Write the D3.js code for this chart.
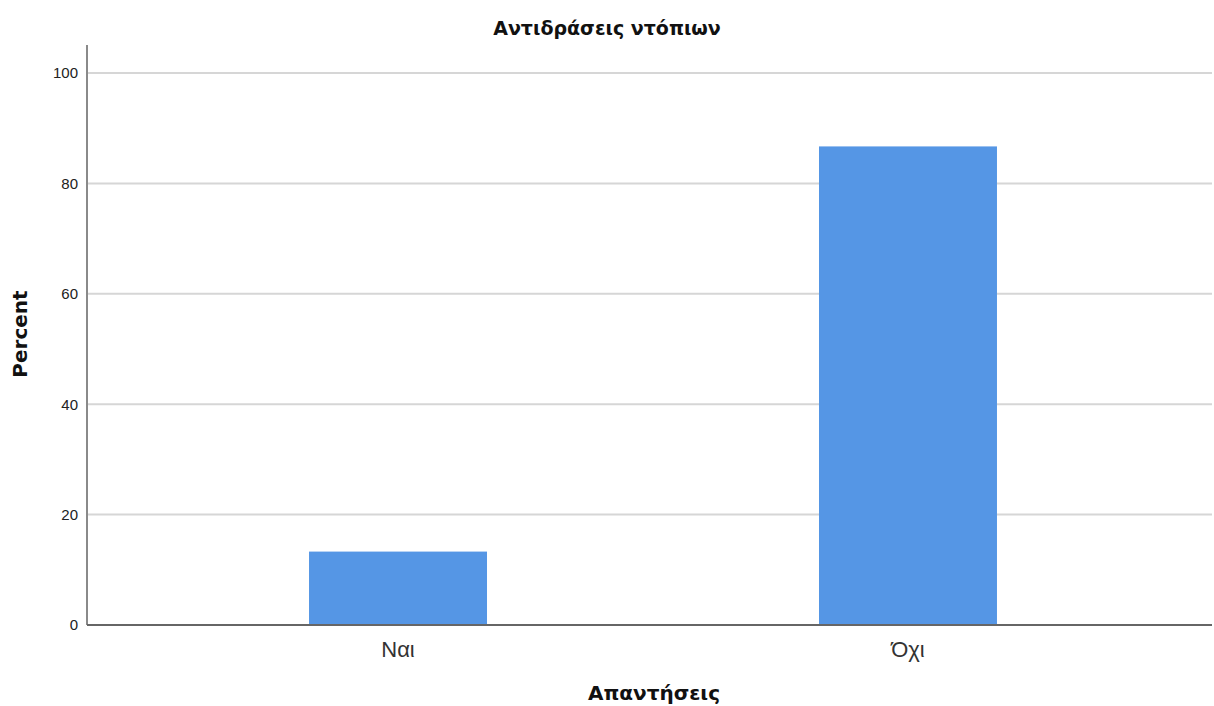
<!DOCTYPE html>
<html>
<head>
<meta charset="utf-8">
<script src="https://cdn.jsdelivr.net/npm/d3@7"></script>
<style>
html,body{margin:0;padding:0;background:#fff;}
svg{display:block;}
</style>
</head>
<body>
<svg id="chart" width="1214" height="706"></svg>
<script>
const categories = ["Ναι", "Όχι"];
const percents = [13.3, 86.7];
const yTicks = [0, 20, 40, 60, 80, 100];
const title = "Αντιδράσεις ντόπιων";
const xTitle = "Απαντήσεις";
const yTitle = "Percent";

const svg = d3.select("#chart");
const pLeft = 87, pRight = 1212, pTop = 45, pBottom = 625;
const y = d3.scaleLinear().domain([0, 100]).range([pBottom, 73]);
const x = d3.scaleBand().domain(categories).range([pLeft + 3.5, pRight + 3.5])
  .paddingInner(0.651).paddingOuter(0.4285);

// gridlines
svg.append("g").selectAll("line").data(yTicks.filter(d => d > 0)).join("line")
  .attr("x1", pLeft).attr("x2", pRight)
  .attr("y1", d => y(d)).attr("y2", d => y(d))
  .attr("stroke", "#d6d6d6").attr("stroke-width", 2);

// bars
svg.append("g").selectAll("rect").data(percents).join("rect")
  .attr("x", (d, i) => x(categories[i]))
  .attr("width", x.bandwidth())
  .attr("y", d => y(d))
  .attr("height", d => y(0) - y(d))
  .attr("fill", "#5596e5");

// y axis
const yAxis = d3.axisLeft(y).tickValues(yTicks).tickSize(0).tickPadding(9);
const gy = svg.append("g").attr("transform", `translate(${pLeft},0)`).call(yAxis);
gy.select(".domain").remove();
gy.selectAll("text").attr("font-family", "Liberation Sans, Arial, sans-serif")
  .attr("font-size", 15).attr("fill", "#222");
svg.append("line").attr("x1", pLeft).attr("x2", pLeft).attr("y1", pTop).attr("y2", pBottom)
  .attr("stroke", "#8a8a8a").attr("stroke-width", 2);

// x axis
const xAxis = d3.axisBottom(x).tickSize(0).tickPadding(16);
const gx = svg.append("g").attr("transform", `translate(0,${pBottom})`).call(xAxis);
gx.select(".domain").remove();
gx.selectAll("text").attr("font-family", "Liberation Sans, Arial, sans-serif")
  .attr("font-size", 22).attr("fill", "#333");
svg.append("line").attr("x1", pLeft).attr("x2", pRight).attr("y1", pBottom).attr("y2", pBottom)
  .attr("stroke", "#666").attr("stroke-width", 2);

// titles
svg.append("text").attr("x", 607).attr("y", 35).attr("text-anchor", "middle")
  .attr("font-family", "DejaVu Sans, Verdana, sans-serif").attr("font-weight", "bold")
  .attr("font-size", 19).attr("fill", "#111").text(title);
svg.append("text").attr("x", 654).attr("y", 700).attr("text-anchor", "middle")
  .attr("font-family", "DejaVu Sans, Verdana, sans-serif").attr("font-weight", "bold")
  .attr("font-size", 20).attr("fill", "#111").text(xTitle);
svg.append("text").attr("transform", "translate(27,334) rotate(-90)").attr("text-anchor", "middle")
  .attr("font-family", "DejaVu Sans, Verdana, sans-serif").attr("font-weight", "bold")
  .attr("font-size", 20).attr("fill", "#111").text(yTitle);
</script>
</body>
</html>
